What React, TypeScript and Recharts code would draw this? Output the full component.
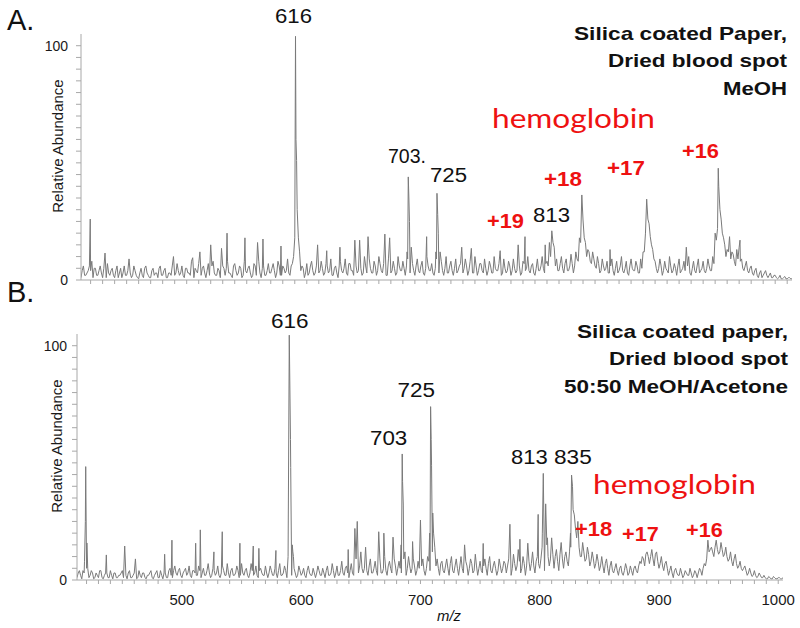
import React from "react";
import { LineChart, Line, XAxis, YAxis } from "recharts";

// m/z sampling grid of the baseline arrays (even and odd m/z)
const MZ_EVEN_START = 412;
const MZ_ODD_START = 413;
const MZ_STEP = 2;
const MZ_DOMAIN: [number, number] = [412, 1004];

// Panel A (MeOH) baseline intensities at even m/z 412..1004
const noiseA = [
  1, 6, 2, 7, 4, 1, 5, 2, 6, 1, 4, 7, 2, 5, 1, 6, 3, 1, 6, 2,
  5, 1, 6, 2, 0.5, 5, 1, 6, 2, 1, 5, 3, 1, 6, 2, 5, 1, 3, 6, 2,
  7, 2, 6, 1, 5, 3, 8, 1, 4, 7, 2, 6, 1, 7, 3, 8, 2, 5, 1, 6,
  2, 8, 3, 1, 7, 2, 6, 1, 8, 3, 6, 1, 7, 2, 8, 1, 6, 2, 7, 3,
  7, 1, 8, 2, 6, 3, 9, 2, 7, 3, 8, 2, 6, 1, 7, 3, 8, 2, 6, 3,
  8, 2, 7, 3, 9, 2, 6, 1, 8, 3, 9, 2, 7, 4, 9, 3, 8, 2, 10, 3,
  9, 3, 8, 2, 10, 4, 7, 2, 9, 3, 8, 2, 10, 4, 8, 2, 9, 3, 7, 2,
  9, 3, 8, 2, 10, 4, 7, 2, 9, 3, 8, 2, 10, 3, 8, 2, 9, 4, 7, 3,
  9, 2, 8, 3, 10, 2, 7, 4, 9, 2, 8, 3, 10, 4, 7, 2, 9, 3, 8, 2,
  9, 3, 10, 2, 8, 4, 10, 3, 7, 2, 9, 4, 10, 3, 8, 2, 11, 3, 9, 4,
  10, 3, 9, 4, 11, 3, 12, 8, 16, 24, 15, 13, 8, 12, 6, 10, 3, 9, 4, 8,
  3, 9, 2, 8, 4, 10, 3, 8, 2, 9, 4, 8, 3, 9, 12, 20, 26, 18, 13, 8,
  3, 9, 2, 8, 4, 10, 3, 7, 2, 9, 4, 8, 3, 10, 2, 8, 3, 9, 4, 8,
  3, 9, 4, 10, 14, 22, 30, 20, 15, 13, 17, 12, 8, 13, 14, 9, 4, 8, 3, 6,
  2, 5, 1, 4, 2, 4, 1, 3, 1, 2, 0.5, 2, 0.5, 1.5, 0.5, 1, 0.5,
];

// Panel A baseline intensities at odd m/z 413..1003
const noiseA2 = [
  4, 2, 3, 6, 3, 5, 2, 4, 3, 5, 1, 3, 4, 2, 4, 1, 5, 3, 2, 4,
  3, 2, 4, 1, 3, 2, 5, 3, 1, 4, 2, 3, 5, 2, 4, 1, 3, 2, 4, 3,
  4, 3, 2, 5, 3, 2, 4, 5, 3, 2, 5, 3, 4, 2, 6, 3, 2, 4, 3, 5,
  5, 3, 2, 6, 4, 3, 5, 2, 4, 5, 3, 2, 6, 4, 3, 5, 2, 4, 3, 5,
  4, 3, 6, 2, 5, 4, 3, 6, 7, 60, 18, 4, 5, 3, 2, 6, 4, 3, 5, 4,
  5, 3, 6, 4, 2, 5, 3, 6, 4, 5, 3, 7, 4, 2, 6, 4, 5, 3, 6, 4,
  5, 3, 6, 4, 7, 3, 5, 2, 6, 4, 5, 3, 6, 4, 5, 6, 35, 5, 4, 6,
  4, 6, 3, 5, 6, 4, 3, 5, 28, 6, 4, 5, 3, 6, 4, 5, 3, 6, 4, 5,
  6, 4, 5, 3, 6, 4, 7, 3, 5, 4, 6, 3, 5, 4, 6, 3, 5, 4, 6, 4,
  5, 4, 6, 3, 7, 5, 4, 6, 3, 5, 4, 6, 5, 7, 6, 10, 16, 6, 4, 7,
  5, 7, 4, 6, 7, 6, 9, 12, 30, 18, 10, 12, 7, 9, 5, 7, 4, 6, 5, 3,
  6, 4, 5, 3, 6, 4, 5, 3, 6, 5, 4, 6, 3, 5, 12, 30, 24, 15, 9, 5,
  5, 6, 4, 5, 3, 6, 4, 5, 6, 3, 5, 4, 6, 3, 5, 4, 6, 3, 5, 4,
  5, 6, 4, 7, 17, 40, 26, 18, 10, 12, 9, 11, 6, 9, 8, 5, 6, 4, 5, 3,
  4, 2, 3, 1, 3, 2, 2, 1, 2, 1, 1, 0.5, 1, 0.5, 1, 0.5,
];

// Panel A peaks [m/z, relative abundance]
const peaksA: [number, number][] = [
  [418, 4], [419.7, 26], [421, 8], [432, 11.5], [452, 9], [489, 10],
  [505, 9.5], [511, 12], [520, 15], [529, 13.5], [533.6, 20], [548.5, 18],
  [559, 16], [563.5, 17.5], [578.5, 14.5],
  [589, 10], [590, 18], [590.6, 104], [591.5, 51], [592, 30], [593, 18], [594, 12],
  [609, 15], [616.6, 12.5], [627.6, 14], [640, 17], [644, 17], [651, 18.5],
  [665, 19.6], [669, 18],
  [683.5, 12], [684.5, 44], [685.5, 25], [687, 14], [699.8, 18.5],
  [707.5, 12], [708.4, 37], [709.5, 20], [711, 12],
  [729, 14], [737, 13.5], [761, 12.5], [776, 15], [781.7, 18.5], [798.5, 15],
  [802, 16], [804, 21], [806, 14],
  [827, 18], [829, 36.3], [830, 25.6], [832, 16],
  [852.5, 13], [882, 20], [883, 34.5], [886, 18.5], [888, 13], [916, 14],
  [940, 20], [942.6, 47.7], [943.5, 35], [945, 26], [952, 18.5], [960.7, 17],
];

// Panel B (50:50 MeOH/Acetone) baseline intensities at even m/z 412..1004
const noiseB = [
  1, 4, 0.5, 3, 5, 1, 4, 0.5, 3, 1, 4, 0.5, 3, 1, 4, 0.5, 3, 1, 2, 4,
  3, 0.5, 4, 1, 3, 0.5, 4, 1, 3, 0.5, 2, 4, 0.5, 3, 1, 4, 0.5, 3, 1, 5,
  1, 6, 2, 5, 1, 4, 2, 6, 1, 4, 2, 6, 1, 5, 2, 7, 1, 5, 2, 6,
  1, 6, 2, 7, 1, 5, 2, 6, 1, 7, 2, 5, 1, 7, 2, 6, 1, 5, 2, 6,
  1, 6, 2, 5, 1, 7, 2, 6, 1, 7, 2, 5, 1, 6, 2, 5, 1, 6, 2, 5,
  1, 6, 2, 5, 1, 6, 2, 7, 1, 6, 2, 8, 2, 6, 1, 7, 2, 9, 3, 12,
  3, 8, 2, 9, 3, 8, 2, 9, 3, 10, 2, 8, 3, 9, 2, 8, 3, 9, 2, 10,
  3, 9, 2, 8, 3, 9, 2, 10, 4, 12, 3, 9, 2, 8, 3, 9, 2, 10, 3, 9,
  2, 10, 3, 8, 2, 9, 3, 11, 2, 8, 3, 9, 2, 10, 3, 8, 2, 9, 3, 8,
  3, 9, 2, 11, 4, 13, 3, 10, 2, 9, 4, 12, 3, 10, 5, 14, 4, 15, 6, 18,
  5, 13, 4, 16, 5, 12, 6, 14, 30, 22, 25, 10, 16, 8, 14, 6, 12, 5, 11, 4,
  10, 3, 9, 2, 8, 3, 7, 2, 6, 2, 7, 2, 6, 2, 6, 3, 8, 10, 6, 12,
  7, 13, 6, 12, 5, 10, 4, 8, 2, 6, 1, 5, 2, 5, 1, 4, 2, 5, 1, 4,
  1, 5, 2, 7, 9, 12, 14, 10, 17, 11, 16, 10, 14, 8, 12, 6, 11, 5, 8, 4,
  6, 2, 5, 1.5, 4, 1, 3, 1, 2, 0.5, 1.5, 0.5, 1.5, 0.5, 1, 0.5, 1,
];

// Panel B baseline intensities at odd m/z 413..1003
const noiseB2 = [
  3, 2, 4, 25, 5, 2, 3, 1, 2, 4, 1, 2, 3, 1, 2, 3, 1, 2, 3, 1,
  2, 3, 1, 2, 4, 1, 2, 3, 1, 2, 3, 1, 2, 4, 1, 2, 3, 1, 4, 2,
  4, 3, 4, 2, 3, 5, 3, 2, 4, 3, 2, 4, 3, 2, 4, 3, 2, 4, 3, 2,
  3, 4, 2, 3, 4, 2, 3, 4, 2, 3, 4, 2, 3, 4, 3, 2, 4, 3, 2, 3,
  3, 4, 2, 3, 4, 2, 3, 4, 10, 60, 12, 3, 2, 4, 3, 2, 4, 3, 2, 3,
  3, 4, 2, 3, 4, 2, 3, 4, 3, 2, 4, 3, 5, 3, 4, 3, 5, 4, 6, 5,
  5, 4, 6, 3, 5, 4, 6, 3, 5, 4, 6, 5, 4, 6, 5, 5, 42, 12, 5, 6,
  5, 6, 4, 5, 6, 4, 5, 8, 60, 20, 6, 5, 7, 4, 6, 5, 7, 4, 6, 5,
  6, 5, 4, 6, 5, 7, 4, 6, 5, 4, 6, 5, 7, 4, 6, 5, 4, 6, 5, 7,
  6, 20, 5, 7, 6, 8, 5, 7, 6, 8, 7, 6, 8, 7, 9, 45, 32, 10, 9, 11,
  10, 8, 11, 9, 10, 8, 12, 43, 28, 18, 14, 10, 12, 9, 11, 8, 9, 7, 8, 6,
  6, 7, 5, 6, 4, 5, 4, 5, 3, 4, 5, 3, 4, 5, 4, 6, 7, 9, 11, 10,
  10, 9, 11, 8, 7, 6, 7, 5, 4, 3, 4, 3, 2, 3, 2, 3, 2, 3, 2, 3,
  3, 4, 5, 6, 17, 13, 12, 14, 13, 12, 13, 11, 10, 9, 8, 9, 7, 6, 5, 5,
  4, 3, 3, 2, 2, 1.5, 2, 1, 1, 0.5, 1, 0.5, 1, 0.5, 1, 0.5,
];

// Panel B peaks [m/z, relative abundance]
const peaksB: [number, number][] = [
  [418.3, 8], [419.3, 48.4], [420.3, 15.8], [436.6, 10.7], [452, 14.5], [461, 9],
  [485.5, 11], [491.6, 17], [511.5, 15.7], [515.4, 21.4], [526.8, 12], [533.8, 20.6],
  [548.6, 15.7], [559.8, 14.5], [564.5, 13.5], [578.8, 12.6],
  [589, 10], [590, 104.5], [591.2, 48], [592.5, 15], [593.5, 10],
  [639.4, 13], [645, 22], [647, 25], [654, 14], [665, 20.6], [669.3, 20], [677, 18.3],
  [683.8, 15], [684.7, 53.8], [685.6, 32], [687, 12], [693.4, 16.4], [700, 25.6],
  [707.7, 20], [708.5, 74], [709.3, 49], [710.3, 28.6], [712, 14],
  [737, 15], [752.6, 15.6], [775, 23.8], [783.4, 17.4], [790, 15.7], [798.7, 28],
  [802.2, 20], [803, 45.5], [805, 32.5], [806.5, 18],
  [825.8, 20], [826.7, 44.8], [827.5, 40], [829, 27.8], [941, 17],
];

const Y_TICKS = [0, 5, 10, 15, 20, 25, 30, 35, 40, 45, 50, 55, 60, 65, 70, 75, 80, 85, 90, 95, 100];
const X_TICKS = [
  420, 430, 440, 450, 460, 470, 480, 490, 500, 510, 520, 530, 540, 550, 560, 570, 580, 590,
  600, 610, 620, 630, 640, 650, 660, 670, 680, 690, 700, 710, 720, 730, 740, 750, 760, 770,
  780, 790, 800, 810, 820, 830, 840, 850, 860, 870, 880, 890, 900, 910, 920, 930, 940, 950,
  960, 970, 980, 990, 1000,
];
const Y_LABELED = [0, 100];
const X_LABELED = [500, 600, 700, 800, 900, 1000];

function build(even: number[], odd: number[], peaks: [number, number][]) {
  const m = new Map<number, number>();
  even.forEach((v, i) => m.set(MZ_EVEN_START + MZ_STEP * i, v));
  odd.forEach((v, i) => m.set(MZ_ODD_START + MZ_STEP * i, v));
  peaks.forEach(([x, v]) => m.set(x, v));
  return [...m.entries()].sort((a, b) => a[0] - b[0]).map(([mz, v]) => ({ mz, v }));
}

const dataA = build(noiseA, noiseA2, peaksA);
const dataB = build(noiseB, noiseB2, peaksB);

const FONT = "'Liberation Sans', Arial, Helvetica, sans-serif";
const AXIS = "#a8a8a8";
const TICKTXT = { fontSize: 15, fill: "#1a1a1a", fontFamily: FONT };
const RED = "#ee1111";

function Panel({ data, width, height, margin, yWidth, xHeight, showX, yMargin }: any) {
  return (
    <LineChart width={width} height={height} data={data} margin={margin}>
      <XAxis
        dataKey="mz"
        type="number"
        domain={MZ_DOMAIN}
        allowDataOverflow
        ticks={X_TICKS}
        interval={0}
        height={xHeight}
        stroke={AXIS}
        tickSize={4}
        tickMargin={10}
        tick={TICKTXT}
        tickFormatter={(v: number) => (showX && X_LABELED.includes(v) ? String(v) : "")}
      />
      <YAxis
        type="number"
        domain={[0, 105]}
        allowDataOverflow
        ticks={Y_TICKS}
        interval={0}
        width={yWidth}
        stroke={AXIS}
        tickSize={5}
        tickMargin={yMargin}
        tick={{ ...TICKTXT, fontSize: 14 }}
        tickFormatter={(v: number) => (Y_LABELED.includes(v) ? String(v) : "")}
      />
      <Line
        type="linear"
        dataKey="v"
        stroke="#7a7a7a"
        strokeWidth={1}
        dot={false}
        isAnimationActive={false}
      />
    </LineChart>
  );
}

function T({ x, y, w, fs, bold, color, family, children, italic }: any) {
  return (
    <text
      x={x}
      y={y}
      fontSize={fs}
      fontWeight={bold ? 700 : 400}
      fontStyle={italic ? "italic" : "normal"}
      fill={color || "#111"}
      fontFamily={family || FONT}
      textLength={w}
      lengthAdjust={w ? "spacingAndGlyphs" : undefined}
    >
      {children}
    </text>
  );
}

export default function App() {
  return (
    <div style={{ position: "absolute", left: 0, top: 0, width: 800, height: 628, background: "#fff", overflow: "hidden" }}>
      <div style={{ position: "absolute", left: 0, top: 0 }}>
        <Panel
          data={dataA}
          width={800}
          height={300}
          margin={{ top: 34, right: 8, bottom: 0, left: 0 }}
          yWidth={81}
          xHeight={20}
          showX={false}
          yMargin={8}
        />
      </div>
      <div style={{ position: "absolute", left: 0, top: 300 }}>
        <Panel
          data={dataB}
          width={800}
          height={328}
          margin={{ top: 34, right: 17, bottom: 0, left: 0 }}
          yWidth={77}
          xHeight={48}
          showX={true}
          yMargin={5}
        />
      </div>
      <svg width={800} height={628} style={{ position: "absolute", left: 0, top: 0, pointerEvents: "none" }}>
        {/* Panel A */}
        <T x={7} y={30} fs={29}>A.</T>
        <text x={57} y={146} fontSize={15} fontFamily={FONT} fill="#1a1a1a" textAnchor="middle" dominantBaseline="central" transform="rotate(-90 57 146)">Relative Abundance</text>
        <T x={275} y={23} w={37} fs={20}>616</T>
        <T x={388} y={163} w={38} fs={20}>703.</T>
        <T x={430} y={182} w={37} fs={20}>725</T>
        <T x={533} y={222} w={37} fs={20}>813</T>
        <T x={487} y={228} w={37} fs={21} bold color={RED}>+19</T>
        <T x={544} y={186} w={38} fs={21} bold color={RED}>+18</T>
        <T x={607} y={175} w={38} fs={21} bold color={RED}>+17</T>
        <T x={682} y={158} w={37} fs={21} bold color={RED}>+16</T>
        <T x={492} y={128} w={163} fs={27} color={RED} family="Lato, 'Open Sans', sans-serif">hemoglobin</T>
        <T x={574} y={40} w={213} fs={19} bold>Silica coated Paper,</T>
        <T x={608} y={67} w={179} fs={19} bold>Dried blood spot</T>
        <T x={723} y={95} w={64} fs={19} bold>MeOH</T>

        {/* Panel B */}
        <T x={7} y={302} fs={29}>B.</T>
        <text x={56} y={446} fontSize={15} fontFamily={FONT} fill="#1a1a1a" textAnchor="middle" dominantBaseline="central" transform="rotate(-90 56 446)">Relative Abundance</text>
        <T x={271} y={328} w={37.6} fs={20}>616</T>
        <T x={370} y={445} w={37.3} fs={20}>703</T>
        <T x={397.5} y={397} w={37.5} fs={20}>725</T>
        <T x={511} y={464} w={36.7} fs={20}>813</T>
        <T x={554} y={464} w={37.7} fs={20}>835</T>
        <T x={593} y={494} w={163} fs={27} color={RED} family="Lato, 'Open Sans', sans-serif">hemoglobin</T>
        <T x={575} y={536} w={37.3} fs={21} bold color={RED}>+18</T>
        <T x={622} y={541} w={36.7} fs={21} bold color={RED}>+17</T>
        <T x={686} y={537} w={36.7} fs={21} bold color={RED}>+16</T>
        <T x={577} y={338} w={211} fs={19} bold>Silica coated paper,</T>
        <T x={609} y={365} w={179} fs={19} bold>Dried blood spot</T>
        <T x={564} y={393} w={224} fs={19} bold>50:50 MeOH/Acetone</T>
        <T x={437} y={621} w={24} fs={14} italic>m/z</T>
      </svg>
    </div>
  );
}
